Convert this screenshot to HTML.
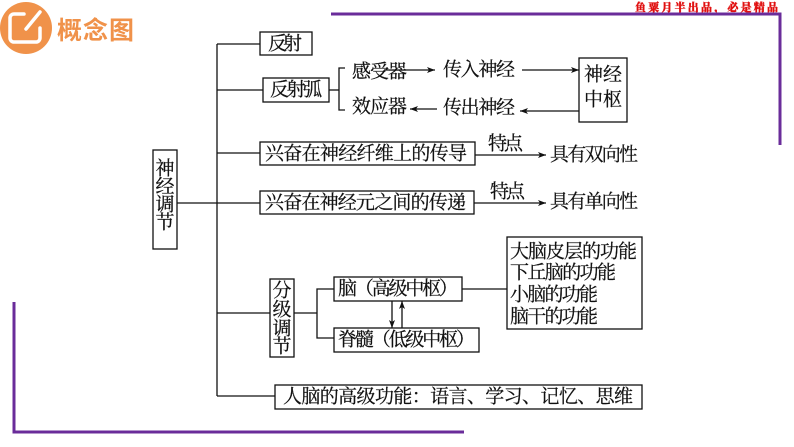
<!DOCTYPE html>
<html><head><meta charset="utf-8"><style>
html,body{margin:0;padding:0;background:#fff;}
svg{display:block;}
.t{font-family:"Liberation Serif","Noto Serif CJK SC",serif;font-size:19px;fill:#111;stroke:#111;stroke-width:0.25;dominant-baseline:central;}
</style></head><body>
<svg width="794" height="447" viewBox="0 0 794 447" xmlns="http://www.w3.org/2000/svg">
<defs>
<marker id="a" markerWidth="8" markerHeight="6" refX="8" refY="3" orient="auto" markerUnits="userSpaceOnUse">
<path d="M0,0 L8,3 L0,6 L2,3 Z" fill="#111"/></marker>
</defs>
<circle cx="26" cy="28" r="26" fill="#F0924A"/>
<path d="M24,14 H14 a4,4 0 0 0 -4,4 V38 a4,4 0 0 0 4,4 H36 a4,4 0 0 0 4,-4 V28" fill="none" stroke="#fff" stroke-width="3.5" stroke-linecap="round"/>
<line x1="26" y1="29" x2="40" y2="12" stroke="#fff" stroke-width="3.5" stroke-linecap="round"/>
<text x="57" y="29" style="font-family:'Noto Sans CJK SC',sans-serif;font-size:25px;font-weight:bold;fill:#F0924A;dominant-baseline:central" textLength="77">概念图</text>
<text x="635" y="7" style="font-family:'Noto Serif CJK SC',serif;font-size:11px;font-weight:900;fill:#e01010;stroke:#e01010;stroke-width:0.3;dominant-baseline:central" textLength="143">鱼粟月半出品，必是精品</text>
<path d="M331,14 H780 V145" fill="none" stroke="#6a2c9a" stroke-width="3"/>
<path d="M14,302 V432 H464" fill="none" stroke="#6a2c9a" stroke-width="3"/>
<g stroke="#111" stroke-width="1.3" fill="none">
<line x1="217" y1="44" x2="217" y2="396"/>
<line x1="177" y1="203" x2="217" y2="203"/>
<rect x="153" y="150" width="24" height="99" fill="#fff"/>
<line x1="217" y1="44" x2="260" y2="44"/>
<rect x="260" y="32" width="52" height="23"/>
<line x1="217" y1="90" x2="263" y2="90"/>
<rect x="263" y="78" width="66" height="24"/>
<line x1="329" y1="90" x2="339" y2="90"/>
<path d="M345,68 H339 V110 H345"/>
<line x1="384" y1="70" x2="435" y2="70" marker-end="url(#a)"/>
<line x1="522" y1="70" x2="579" y2="70" marker-end="url(#a)"/>
<rect x="579" y="58" width="48" height="64"/>
<line x1="579" y1="111" x2="520" y2="111" marker-end="url(#a)"/>
<line x1="437" y1="109" x2="410" y2="109" marker-end="url(#a)"/>
<line x1="217" y1="153" x2="260" y2="153"/>
<rect x="260" y="142" width="215" height="23"/>
<line x1="475" y1="155" x2="546" y2="155" marker-end="url(#a)"/>
<line x1="217" y1="203" x2="260" y2="203"/>
<rect x="260" y="191" width="214" height="23"/>
<line x1="474" y1="203" x2="546" y2="203" marker-end="url(#a)"/>
<line x1="217" y1="313" x2="270" y2="313"/>
<rect x="270" y="279" width="24" height="78"/>
<line x1="294" y1="313" x2="317" y2="313"/>
<path d="M334,289 H317 V338 H334"/>
<rect x="334" y="277" width="128" height="24"/>
<rect x="334" y="328" width="145" height="24"/>
<line x1="392" y1="301" x2="392" y2="328" marker-end="url(#a)"/>
<line x1="402" y1="328" x2="402" y2="301" marker-end="url(#a)"/>
<line x1="462" y1="289" x2="507" y2="289"/>
<rect x="507" y="237" width="135" height="92"/>
<line x1="217" y1="396" x2="275" y2="396"/>
<rect x="275" y="385" width="367" height="24"/>
</g>
<g>
<text x="165" y="169" text-anchor="middle" class="t">神</text>
<text x="165" y="187" text-anchor="middle" class="t">经</text>
<text x="165" y="205" text-anchor="middle" class="t">调</text>
<text x="165" y="223" text-anchor="middle" class="t">节</text>
<text x="268" y="44" class="t" textLength="34">反射</text>
<text x="270" y="90" class="t" textLength="52">反射弧</text>
<text x="352" y="72" class="t" textLength="55">感受器</text>
<text x="352" y="107" class="t" textLength="55">效应器</text>
<text x="443" y="70" class="t" textLength="72">传入神经</text>
<text x="443" y="108" class="t" textLength="72">传出神经</text>
<text x="603" y="75" text-anchor="middle" class="t">神经</text>
<text x="603" y="100" text-anchor="middle" class="t">中枢</text>
<text x="265" y="154" class="t" textLength="202">兴奋在神经纤维上的传导</text>
<text x="265" y="203" class="t" textLength="201">兴奋在神经元之间的传递</text>
<text x="488" y="144" class="t" textLength="35">特点</text>
<text x="490" y="192" class="t" textLength="35">特点</text>
<text x="550" y="155" class="t" textLength="88">具有双向性</text>
<text x="550" y="202" class="t" textLength="88">具有单向性</text>
<text x="282" y="291" text-anchor="middle" class="t">分</text>
<text x="282" y="310" text-anchor="middle" class="t">级</text>
<text x="282" y="329" text-anchor="middle" class="t">调</text>
<text x="282" y="347" text-anchor="middle" class="t">节</text>
<text x="338" y="289" class="t" textLength="120">脑（高级中枢）</text>
<text x="338" y="340" class="t" textLength="137">脊髓（低级中枢）</text>
<text x="510" y="252" class="t" textLength="127">大脑皮层的功能</text>
<text x="510" y="273" class="t" textLength="106">下丘脑的功能</text>
<text x="510" y="295" class="t" textLength="88">小脑的功能</text>
<text x="510" y="317" class="t" textLength="88">脑干的功能</text>
<text x="283" y="397" class="t" textLength="350">人脑的高级功能：语言、学习、记忆、思维</text>
</g>
</svg>
</body></html>
